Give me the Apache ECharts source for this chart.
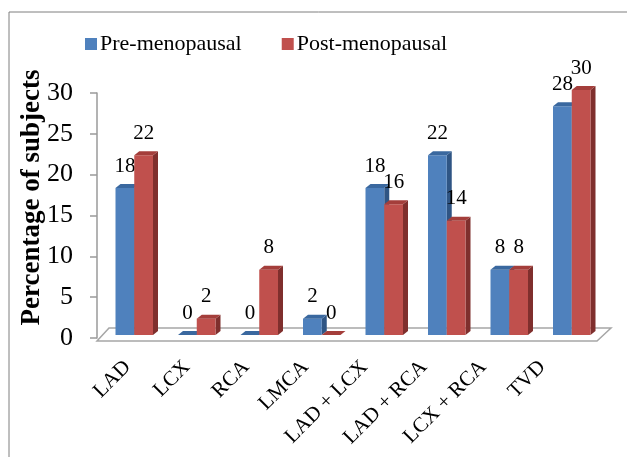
<!DOCTYPE html>
<html>
<head>
<meta charset="utf-8">
<script src="https://cdn.jsdelivr.net/npm/echarts@6/dist/echarts.min.js"></script>
<style>
  html, body { margin: 0; padding: 0; background: #fff; }
  #main { width: 627px; height: 457px; }
</style>
</head>
<body>
<div id="main"></div>
<script>
var categories = ['LAD', 'LCX', 'RCA', 'LMCA', 'LAD + LCX', 'LAD + RCA', 'LCX + RCA', 'TVD'];
var preValues = [18, 0, 0, 2, 18, 22, 8, 28];
var postValues = [22, 2, 8, 0, 16, 14, 8, 30];
var yTicks = [0, 5, 10, 15, 20, 25, 30];

var FONT = 'Liberation Serif';
// 3d look: bars stand in the middle of the floor slab
var SHIFT_X = 6, SHIFT_Y = -3, DX = 5, DY = -4;

function bar3d(slot, front, top, side) {
    return function (params, api) {
        var cat = api.value(0), val = api.value(1);
        var base = api.coord([cat, 0]);
        var tip = api.coord([cat, val]);
        var w = api.size([1, 0])[0] * 0.3;
        var x0 = base[0] + slot * w + SHIFT_X;
        var yB = base[1] + SHIFT_Y;
        var yT = tip[1] + SHIFT_Y;
        return {
            type: 'group',
            children: [
                { type: 'polygon', shape: { points: [[x0 + w, yT], [x0 + w + DX, yT + DY], [x0 + w + DX, yB + DY], [x0 + w, yB]] }, style: { fill: side } },
                { type: 'rect', shape: { x: x0, y: yT, width: w, height: yB - yT }, style: { fill: front } },
                { type: 'polygon', shape: { points: [[x0, yT], [x0 + w, yT], [x0 + w + DX, yT + DY], [x0 + DX, yT + DY]] }, style: { fill: top } },
                { type: 'text', x: x0 + w / 2, y: yT - 22, style: { text: String(val), fontFamily: FONT, fontSize: 21, fill: '#000', align: 'center', verticalAlign: 'middle' } }
            ]
        };
    };
}

function floor(params, api) {
    var cs = params.coordSys;
    var yF = cs.y + cs.height + 3;
    return {
        type: 'polygon',
        shape: { points: [[cs.x, yF], [cs.x + cs.width, yF], [cs.x + cs.width + 14, yF - 13], [cs.x + 12, yF - 13]] },
        style: { fill: '#fff', stroke: '#a6a6a6', lineWidth: 1.5 }
    };
}

var chart = echarts.init(document.getElementById('main'));
chart.setOption({
    animation: false,
    textStyle: { fontFamily: FONT },
    graphic: [{
        type: 'rect', shape: { x: 9, y: 12, width: 700, height: 500 },
        style: { fill: 'none', stroke: '#7f7f7f', lineWidth: 1 }, silent: true
    }],
    legend: {
        data: ['Pre-menopausal', 'Post-menopausal'],
        left: 85, top: 33, padding: 0,
        itemWidth: 12, itemHeight: 12, itemGap: 40,
        icon: 'rect',
        formatter: '{t|{name}}',
        textStyle: {
            fontFamily: FONT, fontSize: 22, color: '#000',
            rich: { t: { fontFamily: FONT, fontSize: 22, color: '#000', padding: [0, 0, 0, -2] } }
        }
    },
    // second grid only carries the category labels, which sit a bit tighter than the bars in the original
    grid: [
        { left: 97, right: 30, top: 93, bottom: 119 },
        { left: 98, right: 55, top: 93, bottom: 119 }
    ],
    xAxis: [{
        type: 'category',
        gridIndex: 0,
        data: categories,
        axisLine: { show: false },
        axisTick: { show: false },
        axisLabel: { show: false }
    }, {
        type: 'category',
        gridIndex: 1,
        data: categories,
        axisLine: { show: false },
        axisTick: { show: false },
        axisLabel: { interval: 0, rotate: 45, margin: 26, fontFamily: FONT, fontSize: 21, color: '#000' }
    }],
    yAxis: [{
        type: 'value',
        gridIndex: 0,
        min: 0, max: 30, interval: 5,
        name: 'Percentage of subjects',
        nameLocation: 'middle',
        nameGap: 51,
        nameMoveOverlap: false,
        nameTextStyle: { fontFamily: FONT, fontSize: 27, fontWeight: 'bold', color: '#000', padding: [0, 0, 0, 36] },
        axisLine: { show: true, lineStyle: { color: '#9a9a9a', width: 1.5 } },
        axisTick: { show: true, length: 7, lineStyle: { color: '#9a9a9a', width: 1.5 } },
        splitLine: { show: false },
        axisLabel: {
            margin: 24, fontFamily: FONT, fontSize: 26, color: '#000',
            formatter: function (v) { return yTicks.indexOf(v) >= 0 ? String(v) : ''; }
        }
    }, {
        type: 'value',
        gridIndex: 1,
        min: 0, max: 30,
        show: false
    }],
    series: [
        { type: 'custom', name: 'floor', silent: true, z: 1, renderItem: floor, data: [[0, 0]] },
        {
            type: 'custom', name: 'Pre-menopausal', z: 2,
            itemStyle: { color: '#4F81BD' },
            renderItem: bar3d(-1, '#4F81BD', '#3A689F', '#2F5584'),
            data: preValues.map(function (v, i) { return [i, v]; })
        },
        {
            type: 'custom', name: 'Post-menopausal', z: 3,
            itemStyle: { color: '#C0504D' },
            renderItem: bar3d(0, '#C0504D', '#A43E3B', '#7F2F2D'),
            data: postValues.map(function (v, i) { return [i, v]; })
        }
    ]
});
</script>
</body>
</html>
